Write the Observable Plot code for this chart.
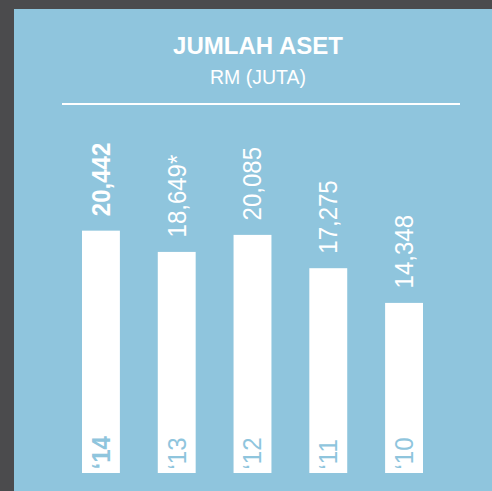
<!DOCTYPE html>
<html><head><meta charset="utf-8">
<script src="https://cdn.jsdelivr.net/npm/d3@7"></script>
<script src="https://cdn.jsdelivr.net/npm/@observablehq/plot@0.6"></script>
<style>
html,body{margin:0;padding:0;}
body{width:492px;height:491px;background:#4b4b4d;position:relative;overflow:hidden;font-family:"Liberation Sans",Arial,Helvetica,sans-serif;}
#panel{position:absolute;left:14px;top:9px;width:478px;height:482px;background:#8fc5dd;}
#title{position:absolute;left:24px;width:468px;top:34px;text-align:center;color:#fff;font-weight:bold;font-size:24px;line-height:24px;}
#subtitle{position:absolute;left:24px;width:468px;top:67.5px;text-align:center;color:#fff;font-size:19.5px;line-height:19.5px;}
#rule{position:absolute;left:62px;top:103px;width:398px;height:2px;background:#fff;}
#chart{position:absolute;left:0;top:110px;}
</style></head>
<body>
<div id="panel"></div>
<div id="title">JUMLAH ASET</div>
<div id="subtitle">RM (JUTA)</div>
<div id="rule"></div>
<div id="chart"></div>
<script>
const years = ["‘14", "‘13", "‘12", "‘11", "‘10"];
const values = [20442, 18649, 20085, 17275, 14348];
const valueLabels = ["20,442", "18,649*", "20,085", "17,275", "14,348"];
const isBold = [true, false, false, false, false];

const data = years.map((y, i) => ({year: y, value: values[i], label: valueLabels[i], bold: isBold[i]}));
const boldData = data.filter(d => d.bold);
const normalData = data.filter(d => !d.bold);

const textCommon = {rotate: -90, textAnchor: "start", lineAnchor: "middle", fontSize: 24};

const plot = Plot.plot({
  width: 492,
  height: 381,
  margin: 0,
  style: {background: "transparent", fontFamily: "'Liberation Sans', Arial, sans-serif", overflow: "visible"},
  x: {domain: years, range: [82, 423], paddingInner: 0.5, paddingOuter: 0, round: false, axis: null},
  y: {domain: [0, 20000], range: [363, 125.9], axis: null},
  marks: [
    Plot.barY(data, {x: "year", y: "value", fill: "#ffffff"}),
    Plot.text(boldData, {...textCommon, x: "year", y: "value", text: "label", dy: -15, fill: "#ffffff", fontWeight: "bold"}),
    Plot.text(normalData, {...textCommon, x: "year", y: "value", text: "label", dy: -15, fill: "#ffffff", fontWeight: "normal"}),
    Plot.text(boldData, {...textCommon, x: "year", y: () => 0, text: "year", dy: -4, fill: "#8fc5dd", fontWeight: "bold"}),
    Plot.text(normalData, {...textCommon, x: "year", y: () => 0, text: "year", dy: -4, fill: "#8fc5dd", fontWeight: "normal"})
  ]
});
document.getElementById("chart").appendChild(plot);
d3.select(plot).selectAll('g[aria-label="text"] text').each(function() {
  const t = this.getAttribute("transform") || "";
  this.setAttribute("transform", t + " scale(1,1.08)");
});
</script>
</body></html>
